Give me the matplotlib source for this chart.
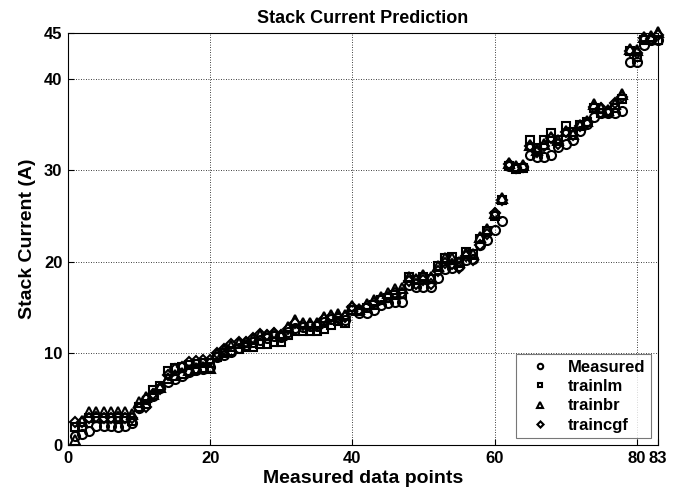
import numpy as np
import matplotlib
matplotlib.use("Agg")
import matplotlib.pyplot as plt

plt.rcParams['font.family'] = ['Liberation Sans', 'DejaVu Sans']

# Stack current (A) at each measured data point, with the three network predictions
measured = [1.0, 1.2, 1.5, 2.1, 2.1, 2.1, 2.0, 2.1, 2.4, 4.0,
            5.0, 5.4, 6.2, 6.9, 7.2, 7.5, 8.0, 8.2, 8.3, 8.5,
            9.6, 9.8, 10.2, 10.6, 10.9, 11.2, 11.5, 11.7, 11.9, 11.8,
            12.3, 12.8, 12.9, 13.0, 13.0, 13.4, 13.8, 13.9, 13.7, 14.7,
            14.4, 14.4, 14.7, 15.3, 15.5, 15.6, 15.6, 17.5, 17.3, 17.3,
            17.3, 18.2, 19.2, 19.3, 19.5, 20.2, 20.3, 21.8, 22.4, 23.5,
            24.5, 30.5, 30.3, 30.4, 31.7, 31.5, 31.5, 31.7, 32.5, 32.9,
            33.3, 34.3, 35.1, 35.8, 36.3, 36.3, 36.3, 36.5, 41.8, 41.8,
            43.7, 44.2, 44.2]
trainlm = [2.0, 2.0, 3.0, 3.0, 3.0, 3.0, 3.0, 3.0, 2.6, 4.2,
           4.5, 6.0, 6.5, 8.1, 8.4, 8.5, 8.7, 8.8, 9.0, 9.0,
           9.6, 10.0, 10.3, 10.5, 10.7, 10.7, 11.0, 11.0, 11.2, 11.2,
           12.0, 12.5, 12.4, 12.4, 12.5, 12.7, 13.1, 13.5, 13.3, 14.7,
           14.6, 15.0, 15.3, 15.8, 16.1, 16.4, 16.5, 18.3, 18.0, 18.4,
           18.1, 19.5, 20.4, 20.5, 20.0, 21.1, 20.9, 22.5, 23.4, 25.0,
           26.8, 30.5, 30.2, 30.3, 33.3, 32.4, 33.3, 34.1, 33.3, 34.8,
           34.2, 35.0, 35.3, 36.8, 36.3, 36.3, 36.8, 37.8, 43.0, 42.4,
           44.2, 44.2, 44.2]
trainbr = [0.5, 2.6, 3.6, 3.6, 3.6, 3.6, 3.6, 3.6, 3.4, 4.7,
           5.2, 5.6, 6.3, 7.3, 7.6, 7.9, 8.2, 8.4, 8.5, 8.4,
           9.9, 10.4, 10.8, 11.1, 11.3, 11.6, 12.0, 12.0, 12.2, 12.0,
           12.9, 13.6, 13.3, 13.3, 13.3, 14.0, 14.2, 14.3, 14.2, 15.2,
           14.9, 15.4, 15.8, 16.2, 16.6, 17.0, 17.1, 18.3, 18.1, 18.6,
           18.3, 19.5, 20.4, 20.4, 20.0, 21.0, 20.9, 22.7, 23.6, 25.3,
           27.0, 30.8, 30.5, 30.6, 32.8, 32.2, 32.9, 33.6, 33.3, 34.3,
           34.0, 34.9, 35.4, 37.2, 36.8, 36.6, 37.3, 38.3, 43.3, 43.1,
           44.6, 44.7, 45.1]
traincgf = [2.5, 2.5, 3.0, 3.1, 3.0, 3.0, 3.1, 3.0, 3.0, 4.0,
            4.2, 5.6, 6.1, 7.6, 8.3, 8.5, 9.1, 9.2, 9.3, 9.3,
            10.1, 10.5, 11.0, 11.3, 11.3, 11.7, 12.1, 12.0, 12.2, 12.0,
            12.7, 13.3, 13.1, 13.1, 13.1, 13.8, 14.0, 14.0, 14.0, 15.1,
            14.7, 15.2, 15.5, 16.0, 16.2, 16.6, 16.6, 17.9, 17.6, 18.0,
            17.6, 19.0, 19.9, 19.8, 19.3, 20.6, 20.2, 21.9, 23.0, 25.3,
            26.8, 30.7, 30.3, 30.4, 32.7, 32.0, 32.7, 33.5, 32.9, 34.2,
            33.9, 34.8, 35.2, 36.9, 36.8, 36.5, 37.4, 38.0, 43.0, 42.8,
            44.5, 44.4, 44.8]
points = np.arange(1, len(measured) + 1)

x_ticks = [0, 20, 40, 60, 80, 83]
y_ticks = [0, 10, 20, 30, 40, 45]

fig = plt.figure(figsize=(6.84, 4.98), dpi=100)
ax = fig.add_axes([0.0994, 0.1064, 0.8626, 0.8273])

series = [
    (measured, 'o', 6.5, 'Measured'),
    (trainlm, 's', 6.0, 'trainlm'),
    (trainbr, '^', 6.5, 'trainbr'),
    (traincgf, 'D', 5.2, 'traincgf'),
]
for values, marker, size, label in series:
    ax.plot(points, values, linestyle='none', marker=marker, markersize=size,
            markerfacecolor='none', markeredgecolor='black',
            markeredgewidth=1.5, label=label, clip_on=False)

ax.set_xlim(0, 83)
ax.set_ylim(0, 45)
ax.set_xticks(x_ticks)
ax.set_yticks(y_ticks)
ax.tick_params(direction='in', length=4, width=0.8, labelsize=12, pad=4)
for lab in ax.get_xticklabels() + ax.get_yticklabels():
    lab.set_fontweight('bold')
ax.grid(True, color='black', linestyle=(0, (1, 2)), linewidth=0.6)
for spine in ax.spines.values():
    spine.set_linewidth(0.8)

ax.set_title('Stack Current Prediction', fontsize=13, fontweight='bold', pad=7)
ax.set_xlabel('Measured data points', fontsize=14, fontweight='bold', labelpad=3)
ax.set_ylabel('Stack Current (A)', fontsize=14, fontweight='bold', labelpad=6)

leg = ax.legend(loc='lower right', prop={'weight': 'bold', 'size': 12},
                frameon=True, fancybox=False, edgecolor='#555555',
                markerscale=0.6, handlelength=2.2, handletextpad=0.6,
                borderpad=0.35, labelspacing=0.25, borderaxespad=0.4)
leg.get_frame().set_linewidth(0.8)

fig.savefig('out.png', dpi=100)
